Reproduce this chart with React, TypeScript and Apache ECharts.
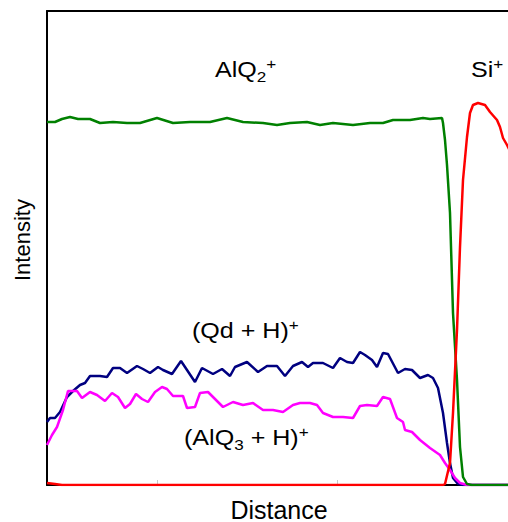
import React, { useEffect, useRef } from "react";
import * as echarts from "echarts";

// x: distance (arbitrary units), y: intensity (arbitrary units)
const alq2: [number, number][] = [
  [0, 363], [8, 363], [15, 366], [23, 368], [31, 366], [43, 366], [53, 362], [66, 363], [80, 362],
  [93, 362], [110, 367], [126, 362], [143, 363], [163, 363], [180, 367], [196, 363], [216, 362],
  [230, 360], [243, 362], [260, 363], [273, 360], [286, 362], [306, 360], [323, 362], [336, 362],
  [346, 365], [363, 365], [376, 367], [383, 366], [395, 367], [396, 362], [398, 345], [400, 320],
  [403, 272], [406, 172], [410, 105], [413, 38], [416, 8], [420, 1], [425, 0], [470, 0],
];
const qdh: [number, number][] = [
  [0, 63], [3, 67], [8, 67], [13, 73], [20, 88], [26, 94], [33, 100], [38, 102], [43, 109],
  [53, 109], [60, 108], [66, 117], [73, 117], [80, 112], [90, 119], [96, 116], [103, 112],
  [111, 118], [116, 115], [125, 111], [134, 124], [140, 115], [148, 103], [155, 117], [166, 111],
  [175, 116], [183, 109], [188, 118], [200, 123], [211, 113], [220, 119], [230, 119], [238, 109],
  [246, 119], [255, 123], [261, 118], [266, 122], [276, 122], [286, 117], [293, 127], [300, 123],
  [306, 122], [313, 133], [318, 130], [325, 125], [330, 118], [336, 132], [341, 131], [351, 112],
  [358, 116], [365, 115], [373, 107], [381, 110], [386, 107], [391, 97], [396, 72], [400, 42],
  [403, 22], [406, 7], [411, 1], [416, 0], [470, 0],
];
const alq3h: [number, number][] = [
  [0, 40], [5, 50], [10, 58], [16, 75], [21, 94], [30, 94], [35, 87], [43, 93], [50, 90],
  [58, 84], [65, 92], [71, 88], [78, 77], [83, 81], [89, 91], [95, 86], [101, 83], [108, 93],
  [115, 98], [120, 96], [126, 89], [136, 89], [140, 77], [148, 78], [153, 92], [161, 93],
  [170, 84], [176, 78], [186, 83], [196, 80], [206, 82], [216, 75], [226, 75], [236, 73],
  [246, 80], [253, 82], [263, 82], [270, 80], [276, 72], [286, 68], [296, 68], [306, 67],
  [313, 79], [320, 80], [330, 79], [336, 88], [343, 86], [350, 67], [356, 63], [358, 55],
  [365, 53], [373, 45], [383, 37], [393, 30], [398, 22], [403, 15], [408, 7], [413, 2],
  [420, 0], [470, 0],
];
const si: [number, number][] = [
  [0, 2], [8, 1], [15, 0], [200, 0], [396, 0], [398, 1], [403, 22], [406, 72], [410, 155],
  [413, 238], [416, 305], [420, 348], [423, 372], [426, 380], [431, 382], [438, 380], [443, 373],
  [450, 365], [453, 358], [456, 347], [460, 340], [470, 320],
];

const tickPositions = [110, 290];

export default function App() {
  const ref = useRef<HTMLDivElement>(null);
  useEffect(() => {
    if (!ref.current) return;
    const chart = echarts.init(ref.current, undefined, { renderer: "svg" });
    const font = "'Liberation Sans', Arial, sans-serif";
    const rich = {
      n: { fontSize: 22, fontFamily: font, color: "#000", lineHeight: 28 },
      sub: { fontSize: 15, fontFamily: font, color: "#000", verticalAlign: "bottom", lineHeight: 16 },
      sup: { fontSize: 15, fontFamily: font, color: "#000", verticalAlign: "top", lineHeight: 16 },
    };
    const mk = (text: string, x: number, y: number) => ({
      type: "text",
      x,
      y,
      scaleX: 1.14,
      style: { text, rich, fontFamily: font, fontSize: 22, fill: "#000" },
      z: 100,
    });
    const noAxisExtras = {
      axisTick: { show: false },
      axisLabel: { show: false },
      splitLine: { show: false },
    };
    chart.setOption({
      animation: false,
      backgroundColor: "#fff",
      grid: { left: 47, top: 11, bottom: 37, right: 0 },
      xAxis: [
        {
          type: "value",
          min: 0,
          max: 461,
          axisLine: { show: true, onZero: false, lineStyle: { color: "#000", width: 2 } },
          axisTick: {
            show: true,
            inside: true,
            length: 5,
            customValues: tickPositions,
            lineStyle: { color: "#c8c8c8", width: 1 },
          },
          axisLabel: { show: false },
          splitLine: { show: false },
        },
        {
          type: "value",
          position: "top",
          min: 0,
          max: 461,
          axisLine: { show: true, onZero: false, lineStyle: { color: "#000", width: 2 } },
          ...noAxisExtras,
        },
      ],
      yAxis: {
        type: "value",
        min: 0,
        max: 474,
        axisLine: { show: true, onZero: false, lineStyle: { color: "#000", width: 2 } },
        ...noAxisExtras,
      },
      series: [
        { name: "(Qd + H)+", type: "line", data: qdh, showSymbol: false, lineStyle: { color: "#000080", width: 2.5 }, z: 2 },
        { name: "(AlQ3 + H)+", type: "line", data: alq3h, showSymbol: false, lineStyle: { color: "#ff00ff", width: 2.5 }, z: 3 },
        { name: "AlQ2+", type: "line", data: alq2, showSymbol: false, lineStyle: { color: "#008000", width: 2.5 }, z: 4 },
        { name: "Si+", type: "line", data: si, showSymbol: false, lineStyle: { color: "#ff0000", width: 2.5 }, z: 5 },
      ],
      graphic: [
        mk("{n|AlQ}{sub|2}{sup|+}", 215, 56),
        mk("{n|Si}{sup|+}", 471, 56),
        mk("{n|(Qd + H)}{sup|+}", 192, 317),
        mk("{n|(AlQ}{sub|3}{n| + H)}{sup|+}", 184, 424),
        {
          type: "text",
          x: 11,
          y: 281,
          rotation: Math.PI / 2,
          style: { text: "Intensity", fontFamily: font, fontSize: 22, fill: "#000", align: "left", verticalAlign: "top" },
        },
        {
          type: "text",
          x: 279,
          y: 522,
          style: { text: "Distance", fontFamily: font, fontSize: 25, fill: "#000", align: "center", verticalAlign: "bottom" },
        },
      ],
    });
    return () => chart.dispose();
  }, []);
  return <div ref={ref} style={{ width: 508, height: 522, position: "absolute", left: 0, top: 0 }} />;
}
